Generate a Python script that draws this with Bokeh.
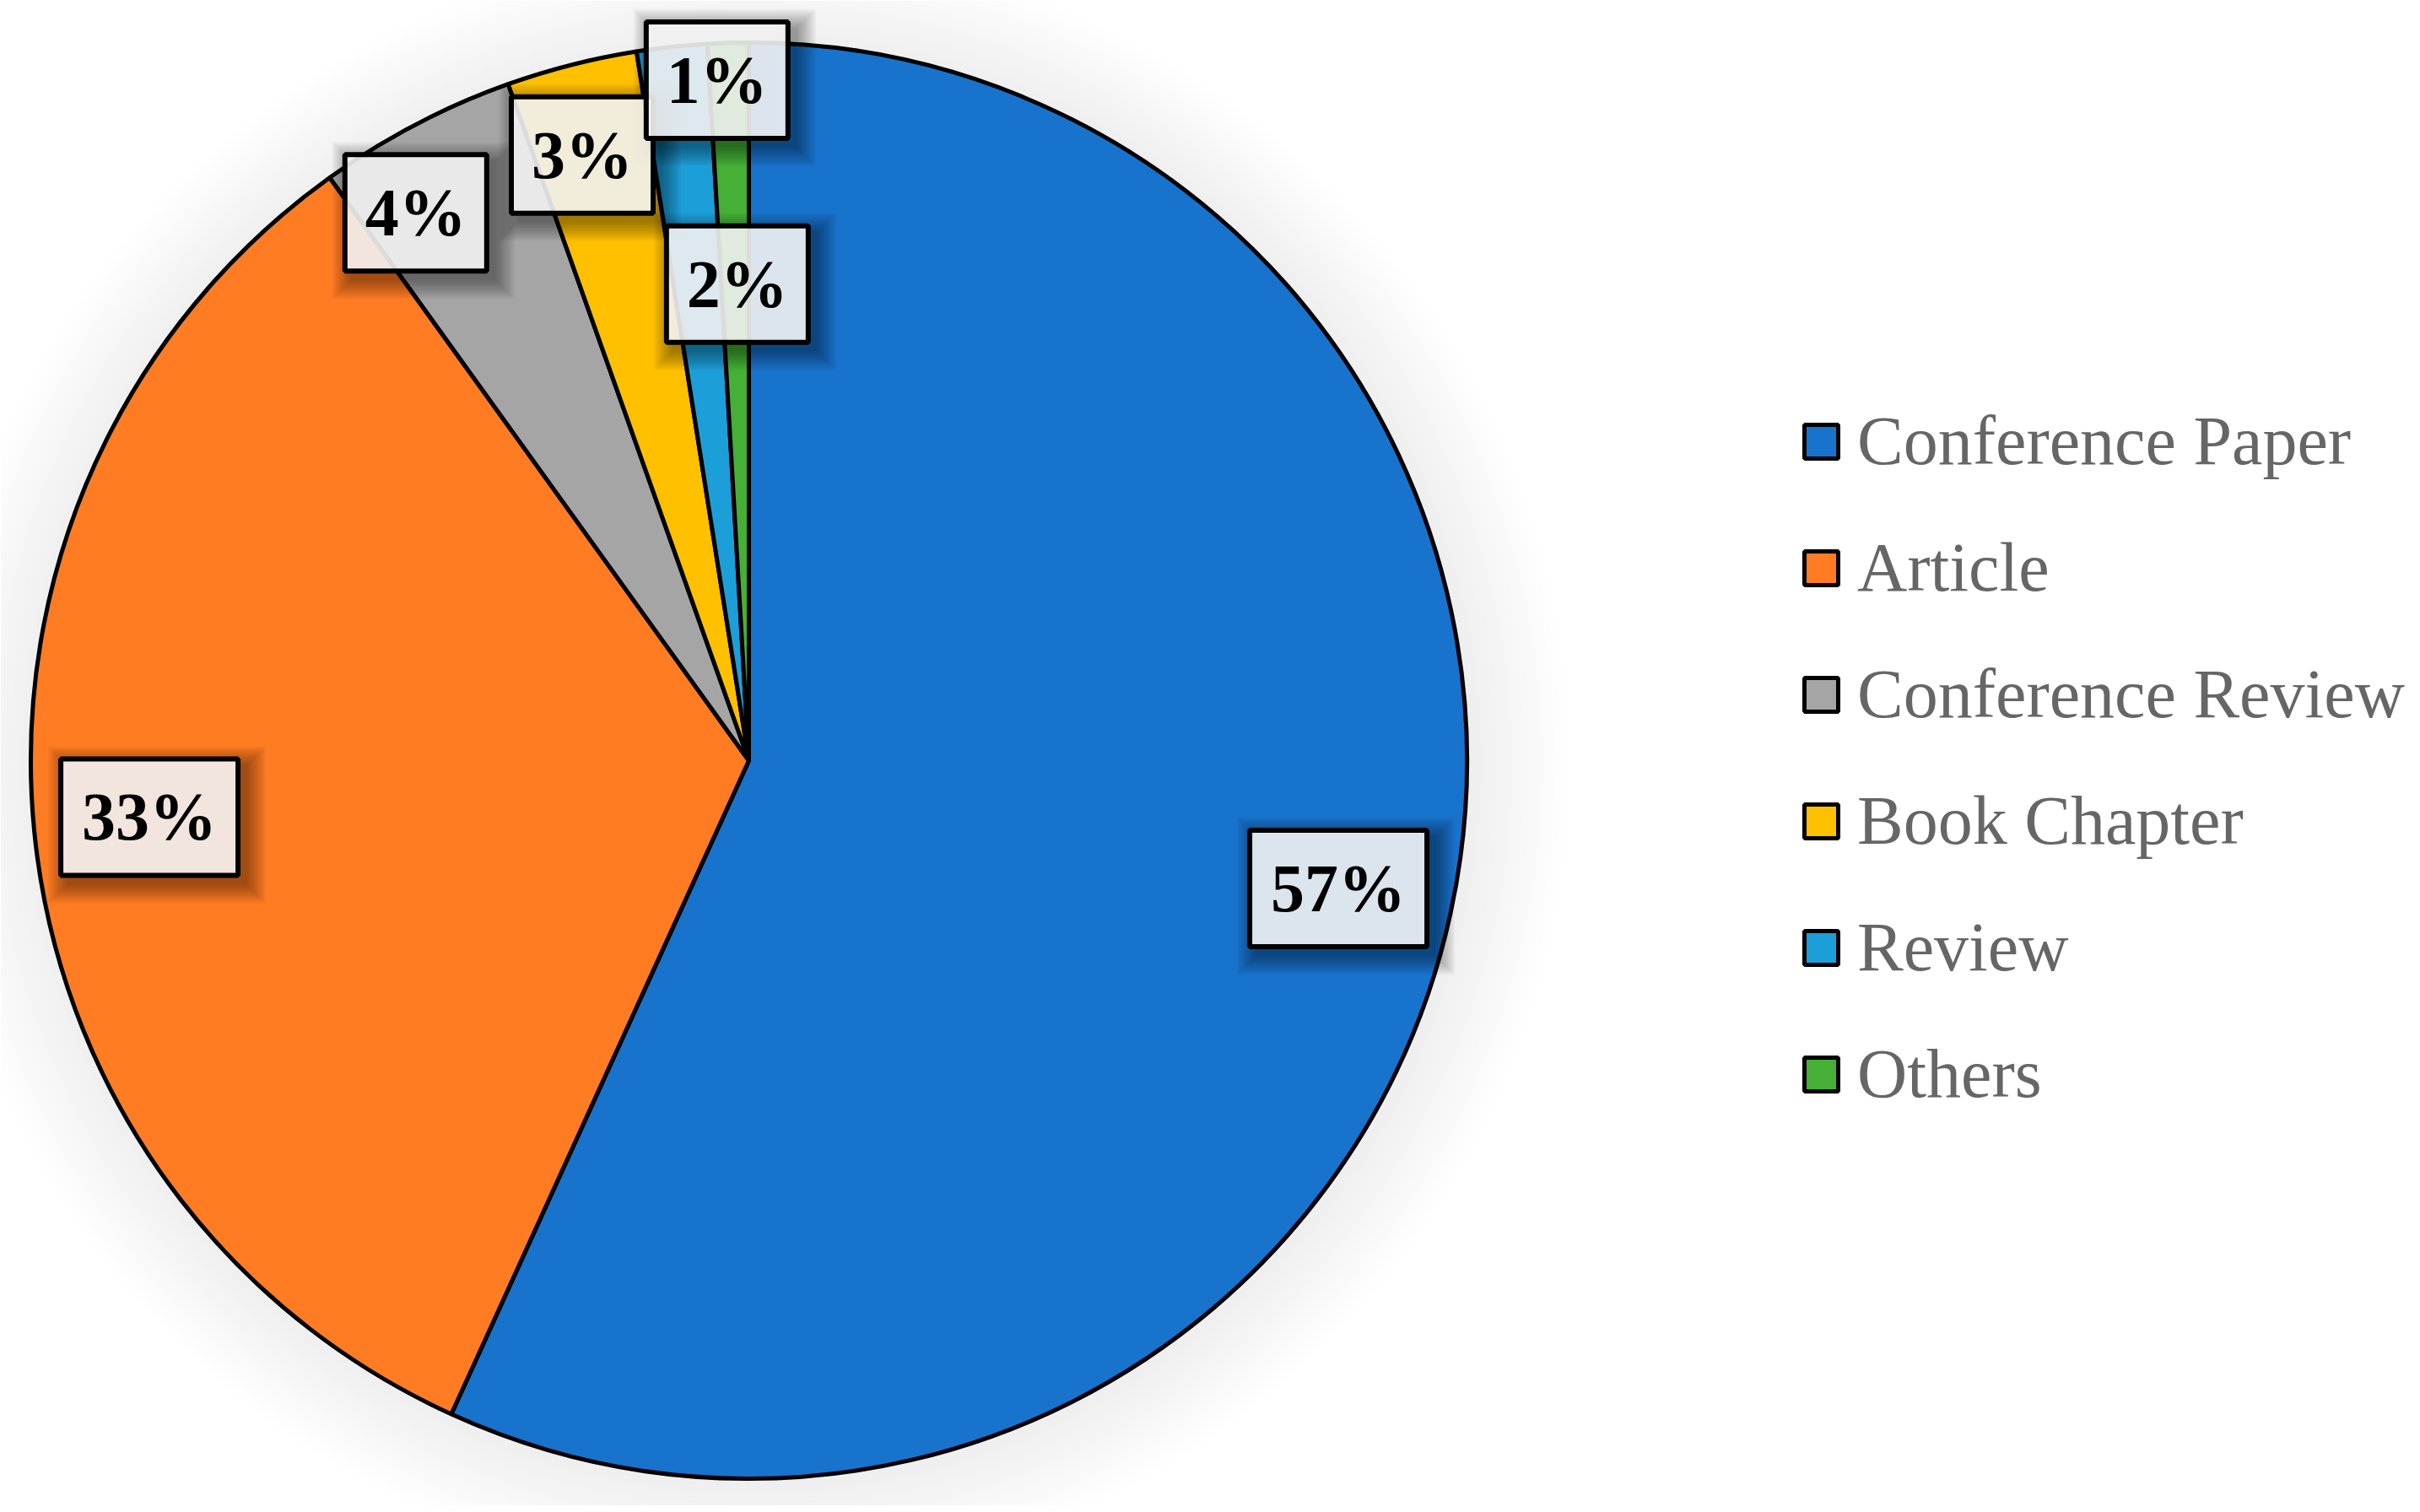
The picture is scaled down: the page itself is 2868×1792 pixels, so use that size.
import math
from bokeh.embed import file_html
from bokeh.resources import INLINE
from bokeh.models import Legend, LegendItem, Range1d
from bokeh.plotting import figure

# ---- data ----
categories = ["Conference Paper", "Article", "Conference Review", "Book Chapter", "Review", "Others"]
values = [56.8, 33.28, 4.48, 2.94, 1.58, 0.92]
labels = ["57%", "33%", "4%", "3%", "2%", "1%"]

# ---- styles / layout ----
colors = ["#1873CC", "#FF7C23", "#A5A5A5", "#FFC000", "#1C9FD9", "#45B035"]
W, H = 2860, 1784
CX, CY, R = 887.0, 901.0, 851.0          # pie centre (from top-left of figure) and radius, px
label_radius = 0.84
# nudge of each label from the default spot on its slice, px (right, up)
label_nudge = [(0, 0), (1, 3), (-63, 16), (-21, 25), (63, -146), (-17, 92)]
box_w = [210, 210, 168, 168, 168, 168]
box_h = 138

total = sum(values)
starts, ends, mids = [], [], []
acc = 0.0
for v in values:
    a0 = math.pi / 2 - 2 * math.pi * acc / total
    acc += v
    a1 = math.pi / 2 - 2 * math.pi * acc / total
    starts.append(a0)
    ends.append(a1)
    mids.append((a0 + a1) / 2)

lx = [label_radius * math.cos(m) + n[0] / R for m, n in zip(mids, label_nudge)]
ly = [label_radius * math.sin(m) + n[1] / R for m, n in zip(mids, label_nudge)]

p = figure(
    width=W, height=H, output_backend="svg", toolbar_location=None,
    x_range=Range1d(-CX / R, (W - CX) / R),
    y_range=Range1d(-(H - CY) / R, CY / R),
    x_axis_type=None, y_axis_type=None, min_border=0,
)
p.grid.visible = False
p.outline_line_color = None
p.background_fill_color = "white"

# soft halo around the pie
for k in range(16, 0, -1):
    p.circle(x=[0.004], y=[-0.004], radius=1 + k * 0.0085, fill_color="black",
             fill_alpha=0.0055, line_color=None)

items = []
for i, c in enumerate(categories):
    r = p.wedge(x=0, y=0, radius=1, start_angle=starts[i], end_angle=ends[i], direction="clock",
                fill_color=colors[i], line_color="black", line_width=5)
    items.append(LegendItem(label=c, renderers=[r]))

# label shadows, boxes and text
for k in range(12, 0, -1):
    s = k * 4
    p.rect(x=[v + 9 / R for v in lx], y=[v - 9 / R for v in ly],
           width=[(b + s) / R for b in box_w], height=(box_h + s) / R,
           fill_color="black", fill_alpha=0.035, line_color=None)
p.rect(x=lx, y=ly, width=[b / R for b in box_w], height=box_h / R,
       fill_color="white", fill_alpha=0.86, line_color="black", line_width=6)
p.text(x=lx, y=ly, text=labels, text_align="center", text_baseline="middle",
       text_font="Liberation Serif", text_font_style="bold", text_font_size="80px",
       text_color="black")

legend = Legend(
    items=items, location=(2133, 464), orientation="vertical",
    background_fill_alpha=0, border_line_color=None, padding=0, margin=0,
    glyph_width=50, glyph_height=50, label_standoff=18, spacing=56,
    label_text_font="Liberation Serif", label_text_font_size="82px", label_text_color="#666666",
    label_height=86,
)
p.add_layout(legend)

open("out.html", "w").write(file_html(p, INLINE))
